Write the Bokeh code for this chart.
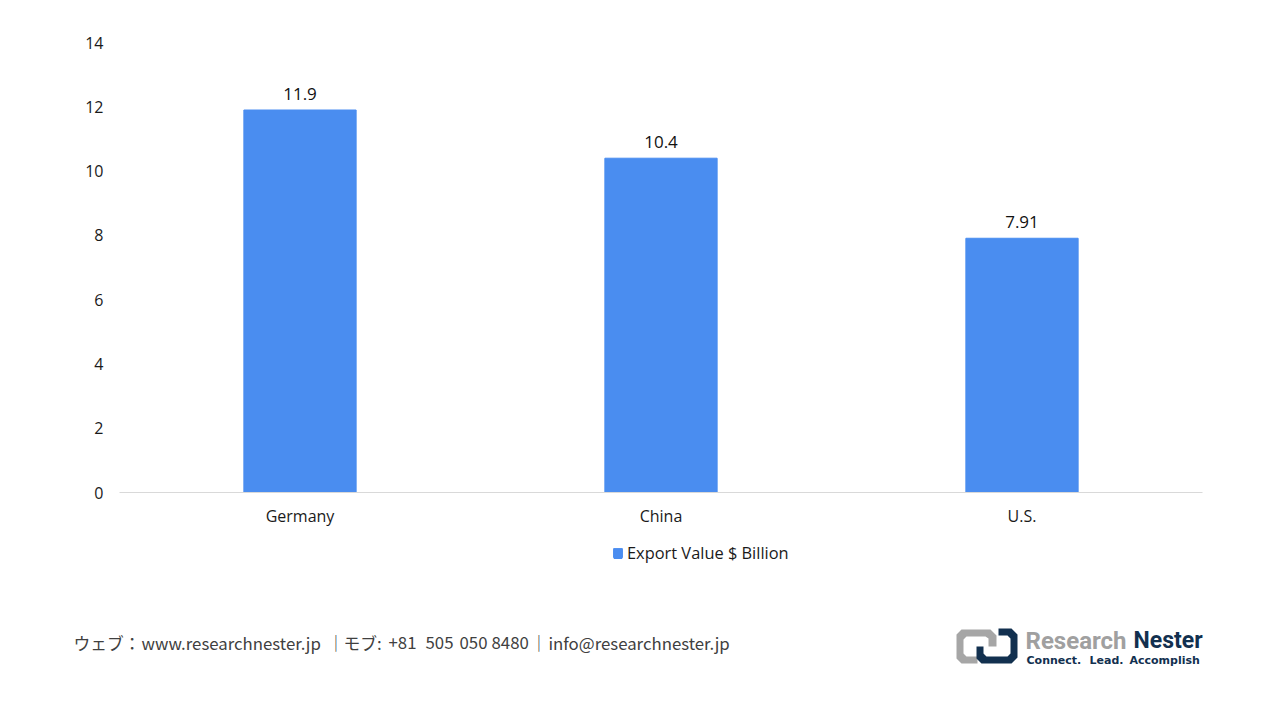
from bokeh.plotting import figure
from bokeh.layouts import column
from bokeh.core.properties import value
from bokeh.models import ColumnDataSource, FactorRange, Range1d, Legend, LegendItem
from bokeh.embed import file_html
from bokeh.resources import INLINE

countries = ["Germany", "China", "U.S."]
export_values = [11.9, 10.4, 7.91]
value_labels = ["11.9", "10.4", "7.91"]
y_ticks = [0, 2, 4, 6, 8, 10, 12, 14]
series_name = "Export Value $ Billion"

BLUE = "#4a8df0"
NAVY = "#12304f"
FONT = "Open Sans"
FOOTER_FONT = "Noto Sans CJK JP"

# footer pieces are placed one by one, the original has wider word gaps than the font
footer_parts = ["ウェブ：", "www.researchnester.jp", "｜", "モブ:", "+81", "505", "050", "8480", "｜", "info@researchnester.jp"]
footer_x = [73, 141, 327, 343, 388, 425, 459, 491, 530, 548]
tagline_parts = ["Connect.", "Lead.", "Accomplish"]
tagline_x = [1026, 1089, 1129]

source = ColumnDataSource(dict(country=countries, value=export_values, label=value_labels))

p = figure(x_range=FactorRange(factors=countries, range_padding=0), y_range=Range1d(0, 14),
           width=1272, height=530, output_backend="svg", toolbar_location=None, frame_align=False,
           min_border_left=119, min_border_right=70, min_border_top=42, min_border_bottom=38)
p.outline_line_color = None
p.grid.visible = False

p.vbar(x="country", top="value", width=0.311, color=BLUE, source=source)
p.text(x="country", y="value", text="label", source=source, y_offset=-10.5, text_align="center",
       text_baseline="bottom", text_font=value(FONT), text_font_size="17px", text_color="#111111")

p.yaxis.ticker = y_ticks
p.yaxis.axis_line_color = None
p.yaxis.major_tick_line_color = None
p.yaxis.minor_tick_line_color = None
p.yaxis.major_label_standoff = 10
p.yaxis.major_label_text_font = FONT
p.yaxis.major_label_text_font_size = "16px"
p.yaxis.major_label_text_color = "#1a1a1a"

p.xaxis.axis_line_color = "#d9d9d9"
p.xaxis.major_tick_line_color = None
p.xaxis.major_label_standoff = 6
p.xaxis.major_label_text_font = FONT
p.xaxis.major_label_text_font_size = "16px"
p.xaxis.major_label_text_color = "#1a1a1a"

# legend and footer strip, its ranges are page pixels
f = figure(x_range=Range1d(0, 1272), y_range=Range1d(712, 530), width=1272, height=182,
           output_backend="svg", toolbar_location=None, x_axis_type=None, y_axis_type=None,
           min_border=0, frame_align=False)
f.outline_line_color = None
f.grid.visible = False

# small bar that sits under the legend's own swatch, the legend needs a renderer
swatch = f.vbar(x=[617.5], top=[550], bottom=[558], width=8, color=BLUE)
legend = Legend(items=[LegendItem(label=series_name, renderers=[swatch])], location=(612, 148),
                orientation="horizontal", border_line_color=None, background_fill_alpha=0,
                glyph_width=11, glyph_height=11, label_text_font=FONT, label_text_font_size="16.4px",
                label_text_color="#1a1a1a", padding=0, margin=0, label_standoff=4)
f.add_layout(legend, "center")

f.text(x=footer_x, y=[642] * len(footer_x), text=footer_parts, text_baseline="middle",
       text_font=value(FOOTER_FONT), text_font_size="16.8px", text_color="#404040")

# logo, two bracket shapes and text
f.patch(x=[961, 990, 996, 996, 988, 988, 985, 966, 963, 963, 966, 977, 977, 961, 956, 956],
        y=[629, 629, 635, 646, 646, 638, 636, 636, 639, 653, 656, 656, 663, 663, 658, 634],
        color="#a6a6a6", line_color=None)
f.patch(x=[998, 1011, 1017, 1017, 1011, 981, 976, 976, 983, 983, 986, 1007, 1010, 1010, 1007, 998],
        y=[628, 628, 634, 657, 663, 663, 658, 646, 646, 653, 656, 656, 653, 638, 635, 635],
        color=NAVY, line_color=None)
f.text(x=[1025], y=[640], text=["Research"], text_baseline="middle", text_font=value("Roboto"),
       text_font_size="24px", text_font_style="bold", text_color="#a0a0a0")
f.text(x=[1133], y=[640], text=["Nester"], text_baseline="middle", text_font=value("Roboto"),
       text_font_size="23px", text_font_style="bold", text_color=NAVY)
f.text(x=tagline_x, y=[660] * len(tagline_x), text=tagline_parts, text_baseline="middle",
       text_font=value("DejaVu Sans"), text_font_size="11px", text_font_style="bold", text_color=NAVY)

layout = column(p, f, spacing=0)
open("out.html", "w").write(file_html(layout, INLINE))
